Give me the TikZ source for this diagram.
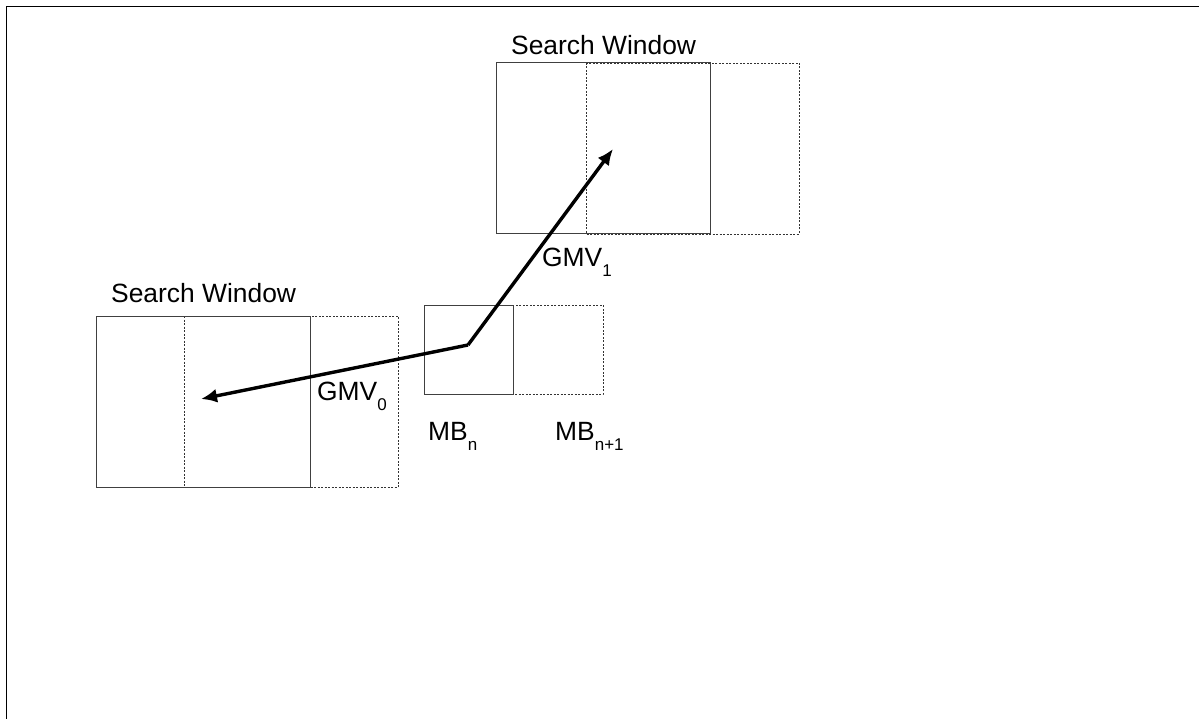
\documentclass[tikz,border=0pt]{standalone}
\usepackage{fontspec}
\setmainfont{Liberation Sans}
\usetikzlibrary{arrows.meta}
\tikzset{
  solidbox/.style={draw=black!75, line width=1pt, fill=none, inner sep=0pt, outer sep=0pt},
  dashbox/.style={draw=black!80, line width=0.9pt, dash pattern=on 2pt off 1.5pt, inner sep=0pt, outer sep=0pt},
  lbl/.style={font=\fontsize{26.4}{26.4}\selectfont, inner sep=0pt, anchor=base west},
  vec/.style={line width=3.4pt, -{Latex[length=16pt,width=14pt]}},
  frameline/.style={line width=1.6pt}
}
\newcommand{\sbs}[1]{\raisebox{-10pt}{\fontsize{17}{17}\selectfont #1}}
\begin{document}
\begin{tikzpicture}[x=1pt,y=-1pt]
\useasboundingbox (0,0) rectangle (1199,719);
% frame
\draw[frameline] (6.5,719) -- (6.5,6.5) -- (1199,6.5);
% left search window
\draw[dashbox] (184,316) rectangle (398,487);
\draw[solidbox] (96,316) rectangle (310,487);
\node[lbl] (sw0) at (111,302) {Search Window};
% top search window
\draw[dashbox] (586,63) rectangle (799,234);
\draw[solidbox] (496,63) rectangle (710,234);
\node[lbl] (sw1) at (511,55) {Search Window};
% macroblocks
\draw[dashbox] (513,305) rectangle (603,394);
\node[solidbox, minimum width=89pt, minimum height=89pt, anchor=north west] (mbn) at (424,305) {};
% vectors
\coordinate (c) at (468,345);
\coordinate (t0) at (201,399);
\coordinate (t1) at (613,149);
\draw[vec] (c) -- (t0);
\draw[vec] (c) -- (t1);
% labels
\node[lbl] (g0) at (317,400) {GMV\sbs{0}};
\node[lbl] (g1) at (542,267) {GMV\sbs{1}};
\node[lbl] (mb0) at (428,440) {MB\sbs{n}};
\node[lbl] (mb1) at (555,440) {MB\sbs{n+1}};
\end{tikzpicture}
\end{document}
